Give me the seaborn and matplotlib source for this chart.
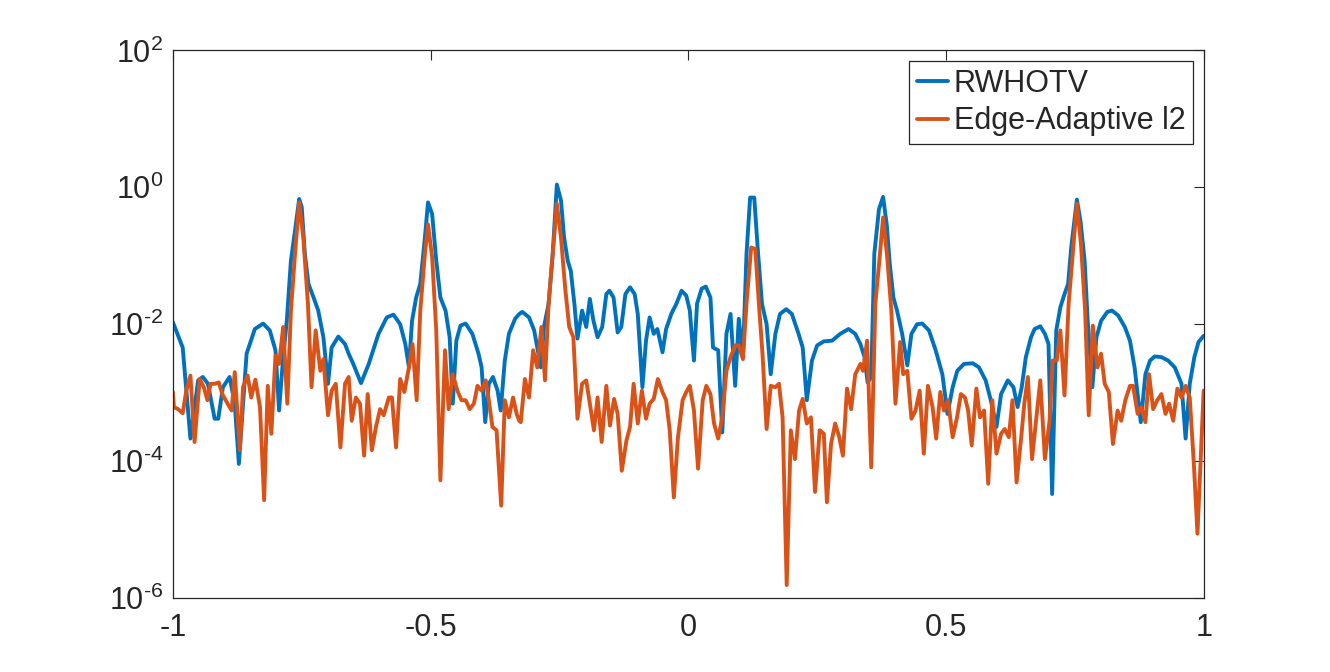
import matplotlib
matplotlib.use("Agg")
import matplotlib.pyplot as plt
import seaborn as sns
import numpy as np

# Erro pontual (escala log) das duas reconstruções
# valores: x e log10 do erro
rwhotv_x = [
    -1.000, -0.981, -0.966, -0.951, -0.942, -0.932, -0.919, -0.912, -0.903, -0.890,
    -0.880, -0.872, -0.857, -0.841, -0.825, -0.812, -0.801, -0.794, -0.786, -0.779,
    -0.771, -0.763, -0.755, -0.750, -0.744, -0.737, -0.727, -0.718, -0.708, -0.699,
    -0.692, -0.679, -0.666, -0.659, -0.650, -0.635, -0.620, -0.601, -0.585, -0.572,
    -0.559, -0.549, -0.542, -0.536, -0.528, -0.520, -0.511, -0.505, -0.497, -0.489,
    -0.481, -0.471, -0.463, -0.457, -0.450, -0.442, -0.432, -0.419, -0.407, -0.401,
    -0.394, -0.387, -0.379, -0.370, -0.364, -0.356, -0.348, -0.336, -0.328, -0.322,
    -0.309, -0.299, -0.292, -0.286, -0.280, -0.271, -0.263, -0.255, -0.247, -0.241,
    -0.234, -0.228, -0.221, -0.215, -0.206, -0.198, -0.191, -0.184, -0.176, -0.167,
    -0.159, -0.153, -0.145, -0.137, -0.130, -0.122, -0.113, -0.104, -0.098, -0.089,
    -0.082, -0.075, -0.067, -0.060, -0.050, -0.043, -0.033, -0.023, -0.013, -0.004,
    0.003, 0.006, 0.011, 0.017, 0.026, 0.034, 0.043, 0.048, 0.058, 0.066,
    0.074, 0.082, 0.091, 0.098, 0.106, 0.113, 0.120, 0.128, 0.135, 0.143,
    0.152, 0.160, 0.169, 0.178, 0.190, 0.201, 0.214, 0.222, 0.230, 0.240,
    0.250, 0.263, 0.279, 0.295, 0.311, 0.324, 0.334, 0.342, 0.348, 0.355,
    0.361, 0.370, 0.378, 0.385, 0.391, 0.398, 0.405, 0.415, 0.425, 0.433,
    0.444, 0.454, 0.467, 0.480, 0.493, 0.503, 0.513, 0.522, 0.535, 0.552,
    0.564, 0.577, 0.587, 0.598, 0.607, 0.620, 0.631, 0.639, 0.647, 0.655,
    0.665, 0.672, 0.683, 0.692, 0.699, 0.706, 0.714, 0.722, 0.730, 0.737,
    0.743, 0.754, 0.761, 0.769, 0.775, 0.784, 0.792, 0.801, 0.813, 0.822,
    0.834, 0.847, 0.857, 0.866, 0.878, 0.887, 0.896, 0.905, 0.918, 0.931,
    0.944, 0.957, 0.965, 0.973, 0.982, 0.990, 1.000,
]
rwhotv_log10 = [
    -1.97, -2.34, -3.67, -2.82, -2.77, -2.87, -3.38, -3.38, -2.92, -2.77,
    -3.16, -4.04, -2.43, -2.07, -1.99, -2.09, -2.38, -3.26, -2.48, -1.95,
    -1.07, -0.63, -0.17, -0.29, -0.97, -1.41, -1.61, -1.80, -2.19, -2.87,
    -2.34, -2.18, -2.29, -2.43, -2.58, -2.86, -2.58, -2.14, -1.90, -1.86,
    -2.00, -2.29, -2.63, -1.95, -1.61, -1.41, -0.73, -0.22, -0.39, -1.07,
    -1.61, -1.80, -2.19, -3.16, -2.24, -2.02, -1.99, -2.14, -2.43, -2.63,
    -3.43, -2.87, -2.77, -2.97, -3.26, -2.53, -2.14, -1.92, -1.85, -1.82,
    -1.90, -2.09, -2.38, -2.63, -2.04, -1.70, -0.97, 0.04, -0.19, -0.73,
    -1.07, -1.22, -1.70, -2.21, -1.80, -2.04, -1.63, -1.95, -2.19, -2.04,
    -1.56, -1.51, -1.61, -2.12, -2.04, -1.56, -1.46, -1.56, -1.85, -2.92,
    -2.24, -1.90, -2.14, -2.07, -2.41, -2.07, -1.85, -1.70, -1.51, -1.58,
    -1.80, -2.09, -2.53, -1.70, -1.48, -1.45, -1.61, -2.34, -2.38, -3.58,
    -2.14, -1.85, -2.90, -1.92, -2.48, -0.97, -0.15, -0.15, -0.92, -1.70,
    -2.00, -2.73, -2.14, -1.85, -1.78, -1.85, -2.14, -2.34, -3.11, -2.53,
    -2.31, -2.25, -2.24, -2.14, -2.07, -2.14, -2.29, -2.48, -2.85, -2.77,
    -0.97, -0.32, -0.14, -0.54, -1.12, -1.61, -1.80, -2.14, -2.60, -2.14,
    -2.00, -1.99, -2.09, -2.38, -2.73, -3.31, -2.92, -2.68, -2.58, -2.57,
    -2.63, -2.82, -3.11, -3.50, -3.02, -2.82, -2.92, -3.21, -2.92, -2.48,
    -2.19, -2.07, -2.03, -2.14, -2.29, -4.48, -2.09, -1.75, -1.56, -1.41,
    -0.88, -0.18, -0.49, -1.07, -1.95, -2.92, -2.19, -1.95, -1.82, -1.80,
    -1.87, -2.04, -2.24, -2.63, -3.43, -2.73, -2.53, -2.47, -2.48, -2.53,
    -2.63, -2.87, -3.67, -2.87, -2.48, -2.26, -2.17,
]

edge_x = [
    -1.000, -0.998, -0.990, -0.981, -0.974, -0.966, -0.958, -0.948, -0.940, -0.933,
    -0.927, -0.919, -0.911, -0.904, -0.894, -0.886, -0.880, -0.870, -0.864, -0.855,
    -0.848, -0.840, -0.831, -0.823, -0.816, -0.809, -0.801, -0.794, -0.786, -0.778,
    -0.771, -0.763, -0.755, -0.747, -0.738, -0.731, -0.723, -0.714, -0.708, -0.699,
    -0.692, -0.684, -0.675, -0.666, -0.659, -0.653, -0.645, -0.637, -0.629, -0.622,
    -0.614, -0.606, -0.598, -0.591, -0.581, -0.575, -0.567, -0.559, -0.551, -0.542,
    -0.535, -0.527, -0.520, -0.511, -0.505, -0.497, -0.489, -0.481, -0.472, -0.465,
    -0.457, -0.448, -0.440, -0.432, -0.424, -0.416, -0.409, -0.401, -0.393, -0.387,
    -0.380, -0.372, -0.363, -0.356, -0.348, -0.340, -0.333, -0.328, -0.325, -0.317,
    -0.309, -0.301, -0.293, -0.285, -0.278, -0.271, -0.263, -0.255, -0.247, -0.239,
    -0.231, -0.223, -0.215, -0.206, -0.198, -0.191, -0.183, -0.176, -0.168, -0.159,
    -0.152, -0.144, -0.137, -0.129, -0.120, -0.113, -0.106, -0.098, -0.090, -0.082,
    -0.075, -0.067, -0.059, -0.050, -0.043, -0.036, -0.028, -0.020, -0.011, -0.004,
    0.003, 0.011, 0.019, 0.028, 0.035, 0.043, 0.050, 0.058, 0.066, 0.074,
    0.082, 0.091, 0.098, 0.106, 0.113, 0.122, 0.130, 0.137, 0.144, 0.152,
    0.160, 0.169, 0.176, 0.183, 0.191, 0.199, 0.207, 0.215, 0.222, 0.230,
    0.238, 0.246, 0.255, 0.263, 0.269, 0.277, 0.285, 0.293, 0.300, 0.308,
    0.316, 0.324, 0.334, 0.339, 0.347, 0.355, 0.363, 0.372, 0.378, 0.386,
    0.394, 0.402, 0.411, 0.417, 0.425, 0.433, 0.441, 0.449, 0.457, 0.465,
    0.474, 0.481, 0.489, 0.496, 0.504, 0.513, 0.521, 0.529, 0.537, 0.543,
    0.550, 0.559, 0.566, 0.574, 0.582, 0.590, 0.598, 0.607, 0.614, 0.622,
    0.629, 0.637, 0.646, 0.652, 0.659, 0.667, 0.683, 0.692, 0.701, 0.707,
    0.715, 0.722, 0.730, 0.738, 0.746, 0.754, 0.762, 0.770, 0.777, 0.785,
    0.794, 0.801, 0.808, 0.816, 0.824, 0.833, 0.840, 0.848, 0.857, 0.863,
    0.872, 0.879, 0.887, 0.894, 0.902, 0.910, 0.918, 0.926, 0.933, 0.941,
    0.949, 0.957, 0.965, 0.973, 0.981, 0.988, 1.000,
]
edge_log10 = [
    -2.99, -3.21, -3.24, -3.30, -2.97, -2.75, -3.72, -2.80, -2.92, -3.11,
    -2.87, -2.87, -2.85, -3.02, -3.16, -3.26, -2.70, -3.84, -2.92, -2.75,
    -3.07, -2.81, -3.21, -4.57, -2.90, -3.60, -2.46, -2.58, -2.04, -3.16,
    -1.80, -0.97, -0.22, -0.73, -1.70, -2.92, -2.09, -2.68, -2.51, -3.33,
    -2.97, -2.87, -3.80, -2.87, -2.77, -3.41, -3.07, -3.16, -3.92, -3.02,
    -3.84, -3.50, -3.24, -3.33, -3.07, -3.07, -3.80, -2.80, -2.99, -2.63,
    -2.29, -3.11, -1.80, -0.97, -0.54, -1.02, -2.09, -4.28, -2.38, -3.24,
    -2.73, -2.97, -3.11, -3.11, -3.24, -3.16, -2.90, -2.97, -2.82, -3.11,
    -3.50, -3.55, -4.65, -3.11, -3.36, -3.07, -3.31, -3.41, -3.43, -2.80,
    -3.07, -2.38, -2.63, -2.04, -2.82, -1.70, -0.97, -0.24, -0.73, -1.46,
    -2.04, -2.19, -3.38, -2.87, -2.82, -3.16, -3.55, -3.07, -3.72, -2.90,
    -3.48, -3.09, -3.31, -4.14, -3.70, -3.50, -2.87, -3.45, -2.97, -3.38,
    -3.16, -3.09, -2.80, -2.99, -3.11, -3.55, -4.53, -3.65, -3.11, -2.99,
    -2.90, -3.26, -4.11, -3.11, -2.90, -3.02, -3.45, -3.67, -3.36, -2.68,
    -2.48, -2.31, -2.31, -2.51, -1.70, -0.88, -0.90, -1.70, -2.43, -3.53,
    -2.90, -2.92, -2.87, -3.36, -5.81, -3.55, -3.97, -3.26, -3.09, -3.45,
    -3.36, -4.45, -3.55, -3.60, -4.60, -3.75, -3.45, -3.65, -3.92, -2.94,
    -3.24, -2.73, -2.58, -2.68, -2.24, -4.09, -1.70, -0.97, -0.44, -1.02,
    -1.80, -3.16, -2.26, -2.73, -2.68, -3.38, -3.26, -2.97, -3.89, -2.90,
    -3.21, -3.67, -2.99, -3.26, -3.11, -3.65, -3.38, -3.02, -3.07, -3.26,
    -3.77, -2.94, -3.36, -3.26, -4.33, -3.11, -3.89, -3.60, -3.53, -3.65,
    -3.11, -4.31, -3.65, -3.16, -2.77, -3.97, -2.82, -3.97, -3.41, -2.53,
    -2.53, -2.09, -3.04, -1.70, -0.97, -0.24, -0.83, -1.80, -3.33, -2.02,
    -2.63, -2.43, -2.87, -2.99, -3.75, -3.26, -3.41, -3.11, -2.90, -2.90,
    -3.31, -3.21, -3.43, -2.73, -3.24, -3.11, -3.02, -3.31, -3.16, -3.41,
    -2.94, -3.07, -2.90, -3.07, -4.04, -5.06, -2.97,
]

labels = ["RWHOTV", "Edge-Adaptive l2"]
cores = ["#0072BD", "#D95319"]
yticks = [1e-6, 1e-4, 1e-2, 1e0, 1e2]
yticklabels = [r"$\mathregular{10^{\text{-6}}}$", r"$\mathregular{10^{\text{-4}}}$",
               r"$\mathregular{10^{\text{-2}}}$", r"$\mathregular{10^{0}}$",
               r"$\mathregular{10^{2}}$"]
xticks = [-1, -0.5, 0, 0.5, 1]
xticklabels = ["-1", "-0.5", "0", "0.5", "1"]

sns.set_style("white")
plt.rcParams["font.family"] = ["Liberation Sans", "DejaVu Sans"]
plt.rcParams["mathtext.fontset"] = "custom"
plt.rcParams["mathtext.rm"] = "Liberation Sans"
plt.rcParams["mathtext.it"] = "Liberation Sans:italic"
plt.rcParams["axes.unicode_minus"] = False

fig = plt.figure(figsize=(13.3, 6.72), dpi=100)
ax = fig.add_axes([0.13, 0.11, 0.775, 0.815])

sns.lineplot(x=rwhotv_x, y=np.power(10.0, rwhotv_log10), ax=ax, color=cores[0],
             linewidth=2.8, label=labels[0], estimator=None, sort=False)
sns.lineplot(x=edge_x, y=np.power(10.0, edge_log10), ax=ax, color=cores[1],
             linewidth=2.8, label=labels[1], estimator=None, sort=False)

ax.set_yscale("log")
ax.set_xlim(-1, 1)
ax.set_ylim(1e-6, 1e2)
ax.set_yticks(yticks)
ax.set_yticklabels(yticklabels)
ax.minorticks_off()
ax.set_xticks(xticks)
ax.set_xticklabels(xticklabels)
ax.tick_params(axis="both", direction="in", length=7, width=0.8, labelsize=22,
               colors="#262626", top=True, right=True)
ax.tick_params(axis="y", pad=7)
ax.tick_params(axis="x", pad=11)
for s in ax.spines.values():
    s.set_color("#262626")
    s.set_linewidth(0.9)

leg = ax.legend(loc="upper right", fontsize=22, frameon=True, fancybox=False,
                framealpha=1, edgecolor="#262626", handlelength=1.0,
                handletextpad=0.2, borderpad=0.25, labelspacing=0.25,
                borderaxespad=0.35)
leg.get_frame().set_linewidth(0.9)

ax.set_xlabel("")
ax.set_ylabel("")
fig.savefig("out.png", dpi=100)
